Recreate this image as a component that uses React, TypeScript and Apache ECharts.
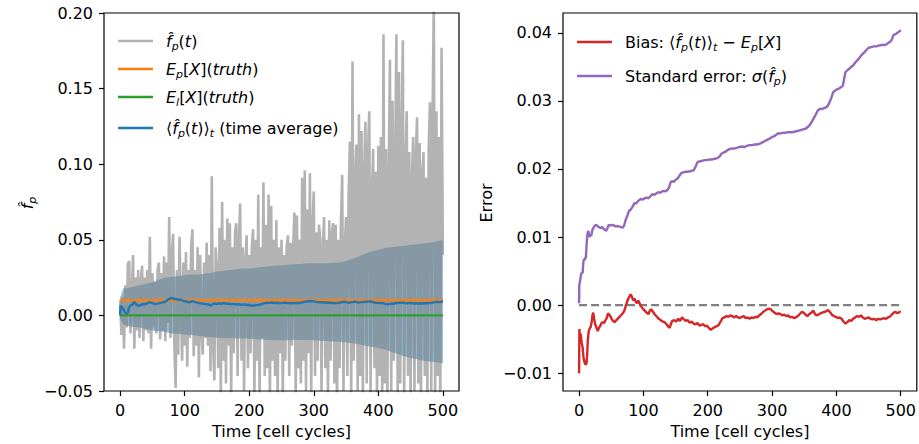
import React, { useEffect, useRef } from "react";
import * as echarts from "echarts";

// ---------- data ----------
const GRAY_STEP = 2; // f_p(t) sampled every 2 cell cycles
const fpHat = [
  0.010, -0.013, 0.012, -0.022, 0.020, -0.008, 0.034, 0.036, -0.012, 0.015,
  0.040, -0.022, 0.025, -0.010, 0.030, -0.015, 0.022, 0.033, -0.017, 0.025,
  -0.010, 0.030, -0.012, 0.052, -0.022, 0.028, -0.008, 0.022, -0.012, 0.030,
  0.035, -0.016, 0.028, -0.010, 0.039, -0.017, 0.035, -0.005, 0.065, -0.015,
  0.040, 0.054, -0.020, -0.048, 0.030, -0.026, 0.052, 0.010, -0.030, 0.035,
  -0.020, 0.042, -0.034, 0.030, -0.015, 0.045, 0.057, -0.027, 0.030, -0.020,
  0.045, -0.041, 0.040, -0.010, -0.026, 0.035, -0.015, 0.048, -0.020, 0.040,
  -0.037, 0.092, -0.020, -0.043, 0.045, 0.030, -0.035, 0.058, -0.055, 0.075,
  -0.030, 0.050, -0.045, 0.064, -0.020, 0.061, -0.055, 0.045, -0.025, 0.055,
  0.061, -0.040, 0.050, 0.074, -0.030, 0.045, -0.050, 0.035, 0.053, -0.035,
  0.040, -0.025, 0.045, 0.057, -0.055, 0.050, -0.030, 0.080, -0.055, 0.045,
  -0.015, 0.088, -0.040, 0.060, -0.035, 0.080, -0.060, 0.0725, -0.030, 0.050,
  -0.040, 0.063, -0.055, 0.045, -0.025, 0.050, -0.058, 0.040, -0.030, 0.045,
  0.053, -0.040, 0.048, -0.020, 0.045, 0.068, -0.055, 0.066, -0.035, 0.050,
  -0.045, 0.091, -0.030, 0.096, -0.050, 0.070, -0.025, 0.094, -0.055, 0.060,
  0.082, -0.040, 0.055, -0.030, 0.060, 0.051, -0.050, 0.045, 0.065, -0.035,
  0.050, -0.055, 0.063, -0.030, 0.055, 0.061, -0.045, 0.060, -0.060, 0.050,
  -0.035, 0.060, 0.093, -0.050, 0.045, 0.065, -0.040, 0.080, 0.115, -0.055,
  0.168, -0.030, 0.090, 0.113, -0.050, 0.133, -0.040, 0.122, -0.060, 0.095,
  0.128, -0.045, 0.110, 0.135, -0.055, 0.080, 0.110, -0.035, 0.095, -0.060,
  0.112, -0.040, 0.118, -0.055, 0.186, -0.045, 0.110, -0.060, 0.090, 0.169,
  -0.050, 0.142, -0.030, 0.100, 0.186, -0.060, 0.161, -0.045, 0.120, 0.182,
  -0.055, 0.100, 0.135, -0.040, 0.108, -0.060, 0.090, 0.118, -0.050, 0.105,
  0.131, -0.045, 0.114, -0.060, 0.095, 0.108, -0.040, 0.091, -0.055, 0.110,
  0.141, -0.050, 0.130, 0.210, -0.060, 0.135, -0.040, 0.118, -0.065, 0.177,
  0.040,
];

const EP_TRUTH = 0.01;
const EI_TRUTH = 0.0;
const T_END = 500;

const bandT = [0, 2, 5, 10, 20, 30, 40, 50, 60, 70, 80, 90, 100, 110, 120, 130, 140, 150, 160, 170, 180, 190, 200, 210, 220, 230, 240, 250, 260, 270, 280, 290, 300, 310, 320, 330, 340, 350, 360, 370, 380, 390, 400, 410, 420, 430, 440, 450, 460, 470, 480, 490, 500];
const bandUpper = [0.012, 0.014, 0.018, 0.018, 0.019, 0.020, 0.021, 0.022, 0.0235, 0.025, 0.0255, 0.026, 0.0265, 0.027, 0.027, 0.0275, 0.028, 0.029, 0.0295, 0.030, 0.0305, 0.031, 0.031, 0.0315, 0.032, 0.0325, 0.033, 0.033, 0.0335, 0.034, 0.034, 0.0345, 0.0345, 0.0345, 0.0345, 0.0348, 0.035, 0.036, 0.0375, 0.039, 0.041, 0.0425, 0.0435, 0.0445, 0.045, 0.0455, 0.046, 0.0465, 0.047, 0.0475, 0.048, 0.049, 0.0497];
const bandLower = [-0.002, -0.004, -0.006, -0.007, -0.0075, -0.008, -0.009, -0.010, -0.0105, -0.011, -0.012, -0.0123, -0.0126, -0.013, -0.0135, -0.014, -0.0145, -0.0148, -0.015, -0.015, -0.0152, -0.0153, -0.0155, -0.0157, -0.016, -0.0162, -0.0164, -0.0165, -0.0165, -0.0163, -0.0162, -0.0163, -0.0165, -0.0168, -0.017, -0.0172, -0.0175, -0.018, -0.0185, -0.019, -0.020, -0.0207, -0.0215, -0.0225, -0.024, -0.0255, -0.027, -0.028, -0.029, -0.030, -0.0305, -0.031, -0.0316];

const bias: [number, number][] = [
  [0, -0.0100], [0.5, -0.0035], [1.5, -0.0048], [2.5, -0.0042], [4, -0.0055], [5.5, -0.0062], [7, -0.0078], [8.5, -0.0084], [10, -0.0087], [11.5, -0.0086],
  [12.5, -0.0075], [13.5, -0.0052], [15, -0.0038], [16.5, -0.0034], [18, -0.0032], [19.5, -0.0025], [21, -0.0014], [22, -0.0011], [23.5, -0.0020], [25, -0.0028],
  [27, -0.0033], [29, -0.0038], [31, -0.0033], [33, -0.0030], [35, -0.0026], [37, -0.0025], [39, -0.0026], [41, -0.0022], [43, -0.0019], [45, -0.0012],
  [47, -0.0014], [49, -0.0017], [51, -0.0021], [53, -0.0023], [55, -0.0025], [58, -0.0022], [61, -0.0019], [64, -0.0016], [67, -0.0013], [70, -0.0009],
  [72, -0.0003], [74, 0.0003], [76, 0.0009], [78, 0.0012], [80, 0.0016], [82, 0.0013], [84, 0.0007], [86, 0.0010], [88, 0.0005], [90, 0.0003],
  [92, 0.0007], [94, 0.0003], [96, -0.0001], [99, -0.0005], [102, -0.0008], [105, -0.0011], [108, -0.0013], [110, -0.0008], [112, -0.0006], [115, -0.0010],
  [118, -0.0014], [121, -0.0017], [124, -0.0020], [127, -0.0022], [130, -0.0024], [133, -0.0025], [136, -0.0028], [139, -0.0032], [141, -0.0033], [143, -0.0027],
  [145, -0.0023], [148, -0.0022], [151, -0.0024], [154, -0.0020], [157, -0.0023], [160, -0.0018], [163, -0.0021], [166, -0.0023], [169, -0.0022], [172, -0.0026],
  [175, -0.0024], [178, -0.0027], [181, -0.0028], [184, -0.0026], [187, -0.0030], [190, -0.0029], [193, -0.0028], [196, -0.0031], [199, -0.0030], [202, -0.0034],
  [205, -0.0036], [208, -0.0034], [211, -0.0032], [214, -0.0031], [217, -0.0029], [220, -0.0024], [223, -0.0019], [226, -0.0018], [229, -0.0016], [232, -0.0017],
  [235, -0.0015], [238, -0.0016], [241, -0.0018], [244, -0.0016], [247, -0.0018], [250, -0.0019], [253, -0.0017], [256, -0.0016], [259, -0.0019], [262, -0.0018],
  [265, -0.0020], [268, -0.0018], [271, -0.0019], [274, -0.0017], [277, -0.0018], [280, -0.0015], [283, -0.0013], [286, -0.0010], [289, -0.0008], [292, -0.0006],
  [295, -0.0005], [298, -0.0006], [301, -0.0009], [304, -0.0011], [307, -0.0013], [310, -0.0012], [313, -0.0013], [316, -0.0015], [319, -0.0014], [322, -0.0016],
  [325, -0.0015], [328, -0.0018], [331, -0.0017], [334, -0.0019], [337, -0.0018], [340, -0.0016], [343, -0.0013], [346, -0.0010], [349, -0.0011], [352, -0.0014],
  [355, -0.0016], [358, -0.0013], [361, -0.0011], [364, -0.0008], [366, -0.0012], [369, -0.0015], [372, -0.0014], [375, -0.0012], [378, -0.0011], [381, -0.0010],
  [384, -0.0009], [387, -0.0007], [390, -0.0010], [393, -0.0014], [396, -0.0016], [399, -0.0017], [402, -0.0019], [405, -0.0018], [408, -0.0020], [411, -0.0024],
  [414, -0.0027], [417, -0.0025], [420, -0.0022], [423, -0.0023], [426, -0.0020], [429, -0.0018], [432, -0.0016], [435, -0.0017], [438, -0.0015], [441, -0.0018],
  [444, -0.0020], [447, -0.0019], [450, -0.0018], [453, -0.0020], [456, -0.0021], [459, -0.0020], [462, -0.0022], [465, -0.0020], [468, -0.0021], [471, -0.0020],
  [474, -0.0019], [477, -0.0020], [480, -0.0018], [483, -0.0017], [486, -0.0014], [489, -0.0011], [492, -0.0010], [495, -0.0012], [498, -0.0010], [500, -0.0009],
];

const stdErr: [number, number][] = [
  [0, 0.0003], [0.3, 0.0030], [1.5, 0.0035], [2.5, 0.0042], [3.5, 0.0046], [4.5, 0.0048], [5.5, 0.0047], [6.5, 0.0062], [7.5, 0.0068], [8.5, 0.0066],
  [9.5, 0.0070], [10.5, 0.0069], [11.5, 0.0085], [12.5, 0.0100], [13.5, 0.0107], [14.5, 0.0109], [15.5, 0.0104], [16.5, 0.0100], [17.5, 0.0103], [19, 0.0102],
  [20.5, 0.0110], [22, 0.0113], [24, 0.0116], [26, 0.0118], [28, 0.0117], [30, 0.0115], [32, 0.0114], [34, 0.0113], [36, 0.0115], [38, 0.0112],
  [40, 0.0111], [42, 0.0109], [44, 0.0113], [46, 0.0118], [48, 0.0117], [52, 0.0118], [56, 0.0116], [60, 0.0116], [64, 0.0115], [68, 0.0114],
  [70, 0.0117], [72, 0.0124], [74, 0.0129], [76, 0.0134], [78, 0.0139], [80, 0.0140], [82, 0.0143], [84, 0.0146], [86, 0.0150], [88, 0.0149],
  [90, 0.0151], [93, 0.0154], [96, 0.0156], [99, 0.0155], [102, 0.0157], [105, 0.0158], [108, 0.0157], [111, 0.0160], [114, 0.0163], [117, 0.0162],
  [120, 0.0164], [123, 0.0166], [126, 0.0165], [129, 0.0167], [132, 0.0168], [135, 0.0167], [138, 0.0170], [140, 0.0173], [142, 0.0180], [144, 0.0182],
  [147, 0.0181], [150, 0.0184], [153, 0.0186], [156, 0.0190], [159, 0.0194], [162, 0.0195], [166, 0.0196], [170, 0.0196], [174, 0.0197], [178, 0.0198],
  [181, 0.0203], [184, 0.0210], [187, 0.0211], [191, 0.0212], [195, 0.0213], [199, 0.0213], [203, 0.0214], [207, 0.0214], [211, 0.0215], [215, 0.0216],
  [218, 0.0218], [221, 0.0222], [224, 0.0224], [227, 0.0225], [230, 0.0227], [233, 0.0229], [237, 0.0230], [241, 0.0230], [245, 0.0231], [249, 0.0232],
  [253, 0.0233], [257, 0.0232], [261, 0.0234], [265, 0.0235], [269, 0.0235], [273, 0.0236], [277, 0.0236], [281, 0.0237], [285, 0.0239], [289, 0.0241],
  [293, 0.0243], [297, 0.0245], [300, 0.0247], [303, 0.0248], [306, 0.0250], [309, 0.0252], [312, 0.0252], [316, 0.0253], [320, 0.0253], [324, 0.0254],
  [328, 0.0254], [332, 0.0254], [336, 0.0255], [340, 0.0256], [344, 0.0257], [348, 0.0258], [352, 0.0259], [356, 0.0262], [359, 0.0265], [362, 0.0270],
  [365, 0.0275], [368, 0.0280], [371, 0.0286], [374, 0.0288], [377, 0.0288], [380, 0.0289], [383, 0.0290], [386, 0.0292], [389, 0.0297], [392, 0.0304],
  [395, 0.0313], [398, 0.0315], [401, 0.0317], [404, 0.0318], [407, 0.0320], [410, 0.0322], [412, 0.0332], [414, 0.0342], [417, 0.0345], [420, 0.0347],
  [423, 0.0350], [426, 0.0352], [429, 0.0356], [432, 0.0359], [435, 0.0362], [438, 0.0366], [441, 0.0369], [444, 0.0372], [447, 0.0375], [450, 0.0378],
  [454, 0.0379], [458, 0.0380], [462, 0.0380], [466, 0.0381], [470, 0.0382], [474, 0.0382], [478, 0.0383], [482, 0.0386], [485, 0.0388], [487, 0.0392],
  [489, 0.0397], [492, 0.0398], [495, 0.0400], [498, 0.0402], [500, 0.0404],
];

const xTicks = [0, 100, 200, 300, 400, 500];
const yTicksLeft = [-0.05, 0, 0.05, 0.1, 0.15, 0.2];
const yTicksRight = [-0.01, 0, 0.01, 0.02, 0.03, 0.04];

// ---------- styling ----------
const FONT = "DejaVu Sans";
const C = {
  gray: "rgba(128,128,128,0.6)",
  grayLegend: "#b3b3b3",
  orange: "#ff7f0e",
  green: "#2ca02c",
  blue: "#1f77b4",
  red: "#d62728",
  purple: "#9467bd",
  band: "rgba(31,119,180,0.5)",
};

const rich = {
  n: { fontFamily: FONT, fontSize: 16, fill: "#000", lineHeight: 22 },
  i: { fontFamily: FONT, fontSize: 16, fill: "#000", fontStyle: "italic", lineHeight: 22 },
  s: { fontFamily: FONT, fontSize: 11, fill: "#000", fontStyle: "italic", lineHeight: 12, verticalAlign: "bottom" },
};

const fmtTick = (v: number) => v.toFixed(2).replace("-", "\u2212");

function axisBase(gridIndex: number) {
  return {
    gridIndex,
    type: "value" as const,
    splitLine: { show: false },
    axisLine: { show: false, onZero: false },
    axisTick: { show: true, length: 5, lineStyle: { color: "#000", width: 1.2 } },
    axisLabel: { color: "#000", fontSize: 16, fontFamily: FONT },
  };
}

function legendRow(x: number, y: number, color: string, text: string) {
  return [
    { type: "line", z: 100, shape: { x1: x, y1: y, x2: x + 35, y2: y }, style: { stroke: color, lineWidth: 2.4 } },
    { type: "text", z: 100, x: x + 48, y, style: { text, rich, align: "left", verticalAlign: "middle" } },
  ];
}

export default function App() {
  const ref = useRef<HTMLDivElement>(null);
  useEffect(() => {
    if (!ref.current) return;
    const chart = echarts.init(ref.current, undefined, { renderer: "svg" });

    const grayData = fpHat.map((v, i) => [i * GRAY_STEP, v]);
    const timeAvg = bias.map(([t, b]) => [t, EP_TRUTH + b]);
    const bandData = bandT.map((t, i) => [t, bandLower[i], bandUpper[i]]);

    const hatF = "f\u0302";

    const option: any = {
      animation: false,
      backgroundColor: "#fff",
      grid: [
        { left: 104, top: 13, width: 355, height: 381, show: true, borderColor: "#000", borderWidth: 1.2, backgroundColor: "transparent", z: 10 },
        { left: 563, top: 13, width: 355, height: 381, show: true, borderColor: "#000", borderWidth: 1.2, backgroundColor: "transparent", z: 10 },
      ],
      xAxis: [0, 1].map((g) => {
        const b = axisBase(g);
        return {
          ...b,
          min: -25,
          max: 525,
          axisTick: { ...b.axisTick, customValues: xTicks },
          axisLabel: { ...b.axisLabel, customValues: xTicks, margin: 11, formatter: (v: number) => String(v) },
          name: "Time [cell cycles]",
          nameLocation: "middle",
          nameGap: 32,
          nameTextStyle: { color: "#000", fontSize: 16, fontFamily: FONT },
        };
      }),
      yAxis: [
        (() => {
          const b = axisBase(0);
          return {
            ...b,
            min: -0.05,
            max: 0.2,
            axisTick: { ...b.axisTick, customValues: yTicksLeft },
            axisLabel: { ...b.axisLabel, customValues: yTicksLeft, margin: 11, formatter: fmtTick },
          };
        })(),
        (() => {
          const b = axisBase(1);
          return {
            ...b,
            min: -0.0126,
            max: 0.0429,
            axisTick: { ...b.axisTick, customValues: yTicksRight },
            axisLabel: { ...b.axisLabel, customValues: yTicksRight, margin: 11, formatter: fmtTick },
          };
        })(),
      ],
      series: [
        {
          name: "band",
          type: "custom",
          xAxisIndex: 0,
          yAxisIndex: 0,
          z: 2,
          data: bandData,
          encode: { x: 0, y: [1, 2] },
          silent: true,
          renderItem: (params: any, api: any) => {
            if (params.dataIndex !== 0) return null;
            const top = bandT.map((t, i) => api.coord([t, bandUpper[i]]));
            const bot = bandT.map((t, i) => api.coord([t, bandLower[i]])).reverse();
            return { type: "polygon", shape: { points: top.concat(bot) }, style: { fill: C.band } };
          },
        },
        {
          name: "f_p(t)",
          type: "line",
          xAxisIndex: 0,
          yAxisIndex: 0,
          z: 3,
          data: grayData,
          showSymbol: false,
          symbol: "none",
          clip: true,
          lineStyle: { color: C.gray, width: 2.6, join: "miter" },
          silent: true,
        },
        {
          name: "Ep",
          type: "line",
          xAxisIndex: 0,
          yAxisIndex: 0,
          z: 4,
          data: [[0, EP_TRUTH], [T_END, EP_TRUTH]],
          showSymbol: false,
          symbol: "none",
          lineStyle: { color: C.orange, width: 2.4 },
        },
        {
          name: "El",
          type: "line",
          xAxisIndex: 0,
          yAxisIndex: 0,
          z: 4,
          data: [[0, EI_TRUTH], [T_END, EI_TRUTH]],
          showSymbol: false,
          symbol: "none",
          lineStyle: { color: C.green, width: 2.4 },
        },
        {
          name: "time average",
          type: "line",
          xAxisIndex: 0,
          yAxisIndex: 0,
          z: 5,
          data: timeAvg,
          showSymbol: false,
          symbol: "none",
          lineStyle: { color: C.blue, width: 2.4 },
        },
        {
          name: "zero",
          type: "line",
          xAxisIndex: 1,
          yAxisIndex: 1,
          z: 2,
          data: [[0, 0], [T_END, 0]],
          showSymbol: false,
          symbol: "none",
          lineStyle: { color: "#808080", width: 2.2, type: [8, 4] },
        },
        {
          name: "Bias",
          type: "line",
          xAxisIndex: 1,
          yAxisIndex: 1,
          z: 3,
          data: bias,
          showSymbol: false,
          symbol: "none",
          lineStyle: { color: C.red, width: 2.4 },
        },
        {
          name: "Standard error",
          type: "line",
          xAxisIndex: 1,
          yAxisIndex: 1,
          z: 3,
          data: stdErr,
          showSymbol: false,
          symbol: "none",
          lineStyle: { color: C.purple, width: 2.4 },
        },
      ],
      graphic: [
        ...legendRow(118, 41, C.grayLegend, `{i|${hatF}}{s|p}{n|(}{i|t}{n|)}`),
        ...legendRow(118, 69, C.orange, "{i|E}{s|p}{n|[}{i|X}{n|](}{i|truth}{n|)}"),
        ...legendRow(118, 97, C.green, "{i|E}{s|l}{n|[}{i|X}{n|](}{i|truth}{n|)}"),
        ...legendRow(118, 128, C.blue, `{n|\u27E8}{i|${hatF}}{s|p}{n|(}{i|t}{n|)\u27E9}{s|t}{n| (time average)}`),
        ...legendRow(577, 42, C.red, `{n|Bias: \u27E8}{i|${hatF}}{s|p}{n|(}{i|t}{n|)\u27E9}{s|t}{n| \u2212 }{i|E}{s|p}{n|[}{i|X}{n|]}`),
        ...legendRow(577, 76, C.purple, `{n|Standard error: }{i|\u03C3}{n|(}{i|${hatF}}{s|p}{n|)}`),
        {
          type: "text",
          z: 100,
          x: 27,
          y: 203,
          rotation: Math.PI / 2,
          style: { text: `{i|${hatF}}{s|p}`, rich, align: "center", verticalAlign: "middle" },
        },
        {
          type: "text",
          z: 100,
          x: 486,
          y: 203,
          rotation: Math.PI / 2,
          style: { text: "Error", fontFamily: FONT, fontSize: 16, fill: "#000", align: "center", verticalAlign: "middle" },
        },
      ],
    };

    chart.setOption(option);
    return () => chart.dispose();
  }, []);

  return (
    <div
      ref={ref}
      style={{ position: "fixed", left: 0, top: 0, width: 919, height: 444, background: "#fff" }}
    />
  );
}
